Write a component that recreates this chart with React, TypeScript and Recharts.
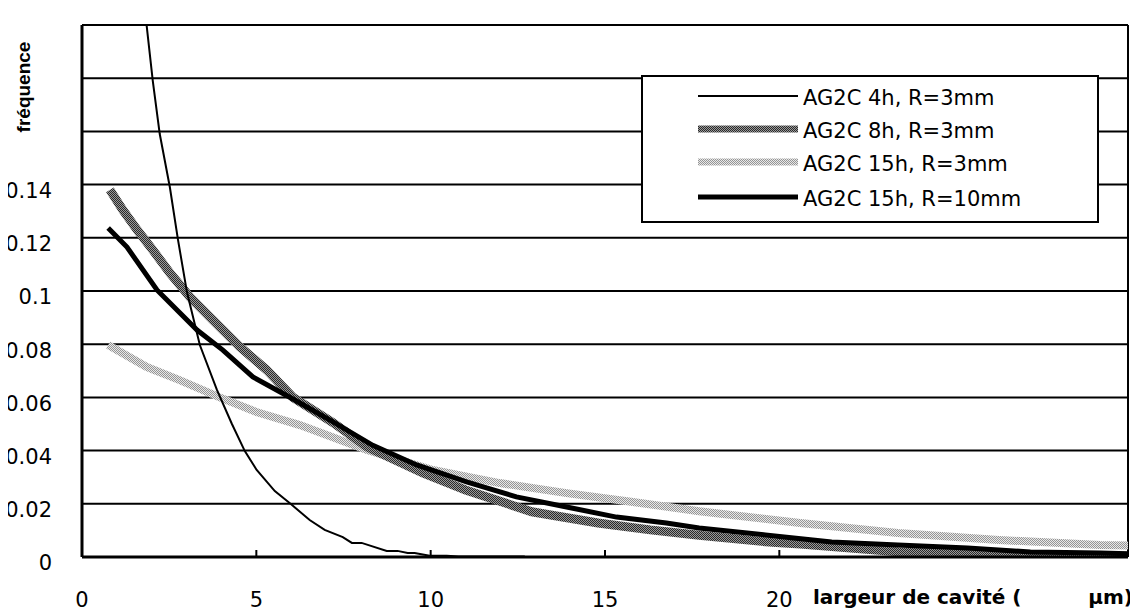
import React from 'react';
import {
  LineChart,
  Line,
  XAxis,
  YAxis,
  ReferenceLine,
  Legend,
  Label,
} from 'recharts';

// x = largeur de cavité (µm), v = fréquence
const xTicks = [0, 5, 10, 15, 20, 25, 30];
const yTicks = [0, 0.02, 0.04, 0.06, 0.08, 0.1, 0.12, 0.14, 0.16, 0.18, 0.2];

const ag2c4h = [
  { x: 1.45, v: 0.25 }, { x: 1.81, v: 0.205 }, { x: 2.03, v: 0.179 }, { x: 2.23, v: 0.159 },
  { x: 2.52, v: 0.139 }, { x: 2.75, v: 0.1195 }, { x: 3.01, v: 0.0996 }, { x: 3.38, v: 0.0797 },
  { x: 3.87, v: 0.0628 }, { x: 4.3, v: 0.05 }, { x: 4.67, v: 0.0398 }, { x: 5.01, v: 0.0327 },
  { x: 5.53, v: 0.0248 }, { x: 5.99, v: 0.0199 }, { x: 6.53, v: 0.0139 }, { x: 6.96, v: 0.0102 },
  { x: 7.48, v: 0.0075 }, { x: 7.74, v: 0.0053 }, { x: 8.02, v: 0.0053 }, { x: 8.74, v: 0.0023 },
  { x: 9.05, v: 0.0023 }, { x: 9.34, v: 0.0015 }, { x: 9.54, v: 0.0015 }, { x: 9.97, v: 0.0005 },
  { x: 10.46, v: 0.0005 }, { x: 10.8, v: 0.0002 }, { x: 12.7, v: 0.0002 },
];

const ag2c8h = [
  { x: 0.8, v: 0.138 }, { x: 1.17, v: 0.1305 }, { x: 1.58, v: 0.123 }, { x: 2.03, v: 0.1154 },
  { x: 2.52, v: 0.1068 }, { x: 3.1, v: 0.0977 }, { x: 3.76, v: 0.089 }, { x: 4.53, v: 0.079 },
  { x: 5.3, v: 0.0703 }, { x: 6.05, v: 0.06 }, { x: 7.2, v: 0.0505 }, { x: 8.17, v: 0.0414 },
  { x: 9.77, v: 0.0316 }, { x: 11.0, v: 0.0252 }, { x: 12.9, v: 0.017 }, { x: 14.8, v: 0.0128 },
  { x: 16.3, v: 0.0102 }, { x: 17.7, v: 0.0082 }, { x: 19.8, v: 0.0055 }, { x: 20.6, v: 0.0049 },
  { x: 23.4, v: 0.002 }, { x: 25.4, v: 0.0012 }, { x: 27.2, v: 0.0008 }, { x: 30, v: 0.0003 },
];

const ag2c15h3mm = [
  { x: 0.75, v: 0.0797 }, { x: 1.86, v: 0.0714 }, { x: 2.8, v: 0.0665 }, { x: 3.95, v: 0.06 },
  { x: 5.0, v: 0.0545 }, { x: 6.25, v: 0.0496 }, { x: 8.17, v: 0.0402 }, { x: 10.06, v: 0.0327 },
  { x: 11.98, v: 0.0278 }, { x: 13.9, v: 0.024 }, { x: 15.8, v: 0.0207 }, { x: 17.7, v: 0.0172 },
  { x: 20.6, v: 0.0128 }, { x: 23.4, v: 0.009 }, { x: 26.3, v: 0.0064 }, { x: 29.2, v: 0.0045 },
  { x: 30, v: 0.0043 },
];

const ag2c15h10mm = [
  { x: 0.75, v: 0.1237 }, { x: 1.29, v: 0.1165 }, { x: 2.15, v: 0.1004 }, { x: 3.3, v: 0.0853 },
  { x: 4.04, v: 0.0778 }, { x: 4.9, v: 0.0677 }, { x: 6.05, v: 0.0594 }, { x: 7.2, v: 0.0508 },
  { x: 8.34, v: 0.042 }, { x: 9.6, v: 0.0346 }, { x: 11.03, v: 0.0282 }, { x: 12.46, v: 0.0226 },
  { x: 13.9, v: 0.0188 }, { x: 15.33, v: 0.015 }, { x: 16.76, v: 0.0128 }, { x: 17.7, v: 0.0109 },
  { x: 19.6, v: 0.0083 }, { x: 21.5, v: 0.0056 }, { x: 23.4, v: 0.0045 }, { x: 25.4, v: 0.0034 },
  { x: 27.2, v: 0.0019 }, { x: 29.2, v: 0.0015 }, { x: 30, v: 0.0012 },
];

const series = [
  { name: 'AG2C 4h, R=3mm', data: ag2c4h, stroke: '#000', width: 2, legendWidth: 2 },
  { name: 'AG2C 8h, R=3mm', data: ag2c8h, stroke: 'url(#darkDither)', width: 9, legendWidth: 7 },
  { name: 'AG2C 15h, R=3mm', data: ag2c15h3mm, stroke: 'url(#lightDither)', width: 8, legendWidth: 7 },
  { name: 'AG2C 15h, R=10mm', data: ag2c15h10mm, stroke: '#000', width: 5, legendWidth: 5 },
];

// drawing order: light under, thin line on top
const drawOrder = [2, 1, 3, 0];

const FONT = '"DejaVu Sans", sans-serif';

const XTick = (props: any) => {
  const { x, y, payload } = props;
  const v = payload.value;
  if (v > 20) return <g />;
  const axisY = y - 35;
  return (
    <g>
      {v > 0 && <line x1={x} x2={x} y1={axisY} y2={axisY - 7} stroke="#000" strokeWidth={2} />}
      <text x={x} y={y} dy="0.71em" textAnchor="middle" fontFamily={FONT} fontSize={21} fill="#000">
        {v}
      </text>
    </g>
  );
};

const YTick = (props: any) => {
  const { x, y, payload } = props;
  const v = payload.value;
  if (v > 0.14) return <g />;
  return (
    <text x={x} y={y + 6} dy="0.355em" textAnchor="end" fontFamily={FONT} fontSize={21} fill="#000">
      {String(v)}
    </text>
  );
};

const LegendBox = () => (
  <div
    style={{
      width: 458,
      height: 148,
      boxSizing: 'border-box',
      border: '2px solid #000',
      background: '#fff',
    }}
  >
    <svg width={454} height={144} style={{ display: 'block' }}>
      {series.map((s, i) => {
        const cy = [21, 54, 87, 122][i];
        return (
          <g key={s.name}>
            <line x1={55} x2={155} y1={cy - 2} y2={cy - 2} stroke={s.stroke} strokeWidth={s.legendWidth} />
            <text x={160} y={cy} dy="0.355em" fontFamily={FONT} fontSize={21} fill="#000">
              {s.name}
            </text>
          </g>
        );
      })}
    </svg>
  </div>
);

export default function App() {
  return (
    <div style={{ position: 'relative', margin: '-8px 0 0 -8px', width: 1138, height: 612 }}>
      <svg width={0} height={0} style={{ position: 'absolute' }}>
        <defs>
          <pattern id="darkDither" width={2} height={2} patternUnits="userSpaceOnUse">
            <rect width={2} height={2} fill="#9a9a9a" />
            <rect width={1} height={1} fill="#2a2a2a" />
            <rect x={1} y={1} width={1} height={1} fill="#2a2a2a" />
          </pattern>
          <pattern id="lightDither" width={2} height={2} patternUnits="userSpaceOnUse">
            <rect width={2} height={2} fill="#e8e8e8" />
            <rect width={1} height={1} fill="#959595" />
            <rect x={1} y={1} width={1} height={1} fill="#959595" />
          </pattern>
        </defs>
      </svg>
      <LineChart width={1138} height={612} margin={{ top: 25, right: 10, bottom: 0, left: 0 }}>
        <XAxis
          dataKey="x"
          type="number"
          domain={[0, 30]}
          ticks={xTicks}
          allowDataOverflow
          height={55}
          tickSize={0}
          tickMargin={35}
          tickLine={false}
          axisLine={{ stroke: '#000', strokeWidth: 3 }}
          tick={<XTick />}
          interval={0}
        >
          <Label
            content={(p: any) => {
              const vb = p.viewBox;
              return (
                <g fontFamily={FONT} fontWeight="bold" fontSize={20} fill="#000">
                  <text x={vb.x + 731} y={vb.y + 47}>largeur de cavité (</text>
                  <text x={vb.x + vb.width + 5} y={vb.y + 47} textAnchor="end">µm)</text>
                </g>
              );
            }}
          />
        </XAxis>
        <YAxis
          type="number"
          domain={[0, 0.2]}
          ticks={yTicks}
          allowDataOverflow
          width={82}
          tickSize={0}
          tickMargin={30}
          tickLine={false}
          axisLine={{ stroke: '#000', strokeWidth: 3 }}
          tick={<YTick />}
          interval={0}
        >
          <Label
            content={() => (
              <text
                x={30}
                y={87}
                transform="rotate(-90, 30, 87)"
                textAnchor="middle"
                fontFamily='"Liberation Sans", Arial, sans-serif'
                fontWeight="bold"
                fontSize={19}
                fill="#000"
              >
                fréquence
              </text>
            )}
          />
        </YAxis>
        {yTicks
          .filter((t) => t > 0)
          .map((t) => (
            <ReferenceLine key={t} y={t} stroke="#000" strokeWidth={2} />
          ))}
        <ReferenceLine segment={[{ x: 30, y: 0 }, { x: 30, y: 0.2 }]} stroke="#000" strokeWidth={2} />
        {drawOrder.map((i) => {
          const s = series[i];
          return (
            <Line
              key={s.name}
              name={s.name}
              data={s.data}
              dataKey="v"
              type="linear"
              stroke={s.stroke}
              strokeWidth={s.width}
              dot={false}
              activeDot={false}
              isAnimationActive={false}
            />
          );
        })}
        <Legend
          layout="horizontal"
          verticalAlign="middle"
          align="center"
          content={() => <LegendBox />}
          wrapperStyle={{ position: 'absolute', left: 641, top: 75, width: 458, height: 148 }}
        />
      </LineChart>
    </div>
  );
}
